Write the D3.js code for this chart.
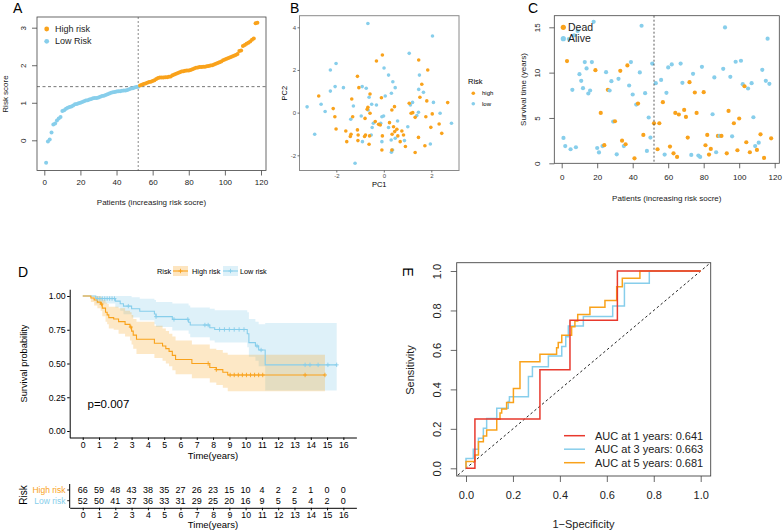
<!DOCTYPE html>
<html><head><meta charset="utf-8">
<script src="https://cdn.jsdelivr.net/npm/d3@7"></script>
<style>body{margin:0;background:#fff}svg{display:block}text{font-family:'Liberation Sans',Arial,Helvetica,sans-serif}</style>
</head><body><svg id="c" width="784" height="530"></svg>
<script>
// ---------------- DATA ----------------
const riskScore = [-0.60,-0.03,0.02,0.21,0.42,0.45,0.53,0.58,0.62,0.78,0.80,0.84,0.87,0.89,0.90,0.93,0.96,0.97,0.99,1.00,
1.02,1.04,1.06,1.07,1.09,1.10,1.12,1.13,1.13,1.14,1.16,1.18,1.19,1.21,1.23,1.25,1.27,1.28,1.29,1.30,
1.31,1.31,1.32,1.33,1.33,1.34,1.36,1.38,1.39,1.41,1.42,1.43,1.46,1.48,1.50,1.51,1.53,1.55,1.56,1.58,
1.60,1.63,1.66,1.67,1.67,1.67,1.68,1.68,1.69,1.70,1.73,1.75,1.77,1.79,1.81,1.83,1.84,1.85,1.86,1.86,
1.87,1.89,1.91,1.93,1.94,1.95,1.95,1.96,1.96,1.97,1.98,1.99,2.00,2.02,2.04,2.06,2.08,2.10,2.13,2.15,
2.17,2.19,2.21,2.23,2.25,2.27,2.30,2.38,2.39,2.51,2.54,2.57,2.60,2.63,2.68,2.71,3.12,3.13];
const nLowRisk = 52;
const riskCutoff = 1.43;
const riskGroups = ["High risk","Low Risk"];

const pcaLow = [[-0.67,4.18],[2.05,3.59],[1.07,2.78],[-2.01,2.30],[-2.25,2.0],[0.01,2.09],[0.2,1.76],[1.5,1.76],[0.38,1.45],[0.48,1.17],[-2.05,1.22],[-1.7,1.17],[-0.91,1.22],[-0.74,1.14],[-2.25,1.01],[0.32,0.91],[0.06,0.78],[-0.62,0.72],[1.67,0.95],[1.47,1.09],[2.09,0.48],[1.21,0.48],[1.12,0.36],[-0.51,0.39],[-0.31,0.36],[-2.64,0.39],[-3.23,0.27],[-2.47,0.05],[-1.28,0.31],[-0.66,0.12],[1.46,0.02],[1.39,-0.14],[2.37,-0.03],[-0.01,-0.16],[-0.08,-0.19],[-0.95,-0.16],[-1.39,-0.31],[-0.44,-0.5],[-0.13,-0.5],[0.58,-0.39],[0.2,-0.7],[-0.49,-0.7],[2.85,-0.5],[1.01,-0.66],[-2.91,-1.01],[-0.53,-1.05],[0.48,-1.2],[0.87,-1.31],[0.31,-1.28],[-0.9,-1.36],[-0.08,-1.36],[0.32,-1.86],[0.37,-1.75],[1.96,-1.47],[-1.21,-2.37]];
const pcaHigh = [[-0.06,2.70],[-0.31,2.42],[1.47,2.47],[1.85,2.0],[-1.11,1.7],[-1.05,1.17],[1.6,1.33],[-0.58,0.87],[-1.35,0.64],[-0.1,0.7],[-2.74,0.78],[1.52,0.72],[1.81,0.55],[2.69,0.47],[1.07,0.44],[-0.67,0.25],[-0.7,0.16],[-2.13,0.19],[0.45,0.28],[0.34,0.12],[-0.58,-0.03],[1.15,-0.03],[1.22,0],[2.04,-0.06],[-2.06,-0.19],[-1.31,-0.19],[-0.79,-0.27],[1.32,-0.22],[1.77,-0.19],[-0.36,-0.42],[-0.22,-0.55],[-0.15,-0.58],[0.24,-0.47],[0.41,-0.66],[0.55,-0.78],[-2.01,-0.77],[-1.6,-0.86],[-1.11,-0.81],[0.46,-0.89],[0.76,-0.86],[2.33,-0.53],[1.98,-0.69],[2.44,-0.97],[0.35,-1.01],[-1.38,-1.01],[-1.41,-1.12],[-1.08,-1.05],[-0.81,-1.12],[-0.77,-1.05],[-0.6,-1.09],[-0.06,-1.09],[0.59,-1.09],[0.83,-1.05],[1.46,-1.16],[-1.56,-1.36],[-1.09,-1.31],[-0.62,-1.48],[0.69,-1.36],[0.91,-1.59],[-0.08,-1.75],[0.34,-1.75],[1.73,-1.55],[1.32,-1.87]];

const survTime = [2.8,1.9,11.27,13.7,1.55,8.1,14.1,1.77,14.6,9.83,9.1,8.29,11.16,10.46,7.7,8.03,11.16,15.6,10.27,1.69,
1.2,5.56,1.9,2.0,10.05,8.1,8.03,9.06,4.6,4.64,0.99,9.32,10.2,2.5,1.9,2.1,10.79,8.58,11.16,7.59,
0.55,6.48,6.59,10.02,15.17,3.13,7.73,1.36,5.05,2.84,11.0,4.42,8.84,1.55,4.42,9.2,6.74,0.96,7.77,10.57,
1.84,10.9,1.1,5.56,0.7,5.38,11.0,8.88,5.89,5.12,2.84,8.95,0.92,9.87,7.81,5.56,0.85,0.7,10.64,7.85,
1.99,3.13,0.96,1.58,5.41,9.47,1.22,3.02,3.02,3.02,10.42,14.99,1.1,5.78,9.54,2.98,4.42,11.2,1.44,4.94,
11.31,8.73,8.5,2.32,8.25,1.22,8.84,5.08,1.9,1.47,2.28,3.2,10.31,0.59,9.1,13.74,8.77,2.76];
const survStatus = [0,0,1,0,0,0,0,0,0,0,0,0,0,0,0,0,0,0,1,0,
0,1,0,1,0,1,0,0,0,1,0,0,1,1,0,1,1,0,0,0,
1,0,1,0,0,1,0,0,0,0,0,1,0,1,1,0,1,0,0,0,
1,0,1,1,1,1,0,0,1,1,1,1,0,0,1,1,0,0,0,1,
1,1,1,1,0,0,0,1,0,1,0,0,1,1,0,0,1,0,1,1,
0,0,1,1,0,1,0,0,0,1,0,1,0,1,0,0,0,1];
const statusLabels = ["Dead","Alive"];

const kmHighTime  = [0,0.5,0.7,0.9,1.1,1.2,1.4,1.5,1.6,1.9,2.2,2.6,2.9,3.0,3.1,3.3,4.4,4.9,5.1,5.3,5.5,5.7,6.7,7.8,8.2,8.6,8.9,14.87];
const kmHighSurv  = [1,.985,.97,.955,.94,.91,.88,.86,.84,.83,.81,.79,.77,.74,.71,.68,.65,.63,.61,.59,.56,.53,.50,.47,.455,.435,.415,.415];
const kmHighLower = [1,.955,.93,.91,.89,.85,.81,.79,.76,.75,.72,.70,.67,.64,.61,.57,.54,.52,.50,.48,.45,.42,.39,.36,.34,.32,.295,.295];
const kmHighUpper = [1,1,1,1,.99,.97,.95,.94,.92,.92,.91,.89,.88,.86,.83,.81,.78,.76,.74,.72,.70,.67,.64,.61,.60,.58,.565,.565];
const kmHighCensor = [1.15,2.95,7.7,8.2,9.05,9.3,9.55,9.8,10.05,10.3,10.55,10.8,11.05,13.65,14.87];

const kmLowTime  = [0,0.8,2.0,2.3,2.5,3.0,3.5,4.4,4.5,5.5,6.5,6.6,7.8,8.1,10.1,10.2,10.6,10.8,11.2,15.59];
const kmLowSurv  = [1,.981,.962,.943,.925,.906,.887,.867,.847,.827,.806,.785,.765,.752,.72,.655,.63,.60,.49,.49];
const kmLowLower = [1,.945,.915,.89,.865,.84,.82,.79,.77,.745,.72,.695,.67,.655,.62,.55,.52,.48,.30,.30];
const kmLowUpper = [1,1,1,1,1,.99,.98,.97,.955,.945,.93,.915,.905,.895,.88,.83,.81,.79,.80,.80];
const kmLowCensor = [0.9,1.05,1.2,1.35,1.5,1.65,1.8,1.95,2.8,4.5,5.6,6.45,7.5,7.7,8.4,8.7,9.0,9.3,9.6,9.9,10.7,10.95,13.65,13.95,14.45,15.05,15.59];

const kmGroups = ["High risk","Low risk"];
const pValueText = "p=0.007";
const timeTicks = [0,1,2,3,4,5,6,7,8,9,10,11,12,13,14,15,16];
const atRiskHigh = [66,59,48,43,38,35,27,26,23,15,10,4,2,2,1,0,0];
const atRiskLow  = [52,50,41,37,36,33,31,29,25,20,16,9,5,5,4,2,0];

const roc1 = [[0,0],[0.038,0],[0.038,0.25],[0.315,0.25],[0.315,0.5],[0.443,0.5],[0.443,0.75],[0.645,0.75],[0.645,1],[1,1]];
const roc3 = [[0,0],[0,0.05],[0.031,0.05],[0.031,0.096],[0.053,0.096],[0.053,0.152],[0.074,0.152],[0.074,0.203],[0.088,0.203],[0.088,0.253],[0.131,0.253],[0.131,0.304],[0.18,0.304],[0.18,0.338],[0.185,0.338],[0.185,0.363],[0.266,0.363],[0.266,0.465],[0.283,0.465],[0.283,0.515],[0.351,0.515],[0.351,0.569],[0.408,0.569],[0.408,0.617],[0.425,0.617],[0.425,0.667],[0.436,0.667],[0.436,0.721],[0.5,0.721],[0.5,0.769],[0.625,0.769],[0.625,0.823],[0.675,0.823],[0.675,0.9375],[0.781,0.9375],[0.781,1],[1,1]];
const roc5 = [[0,0],[0,0.035],[0.038,0.035],[0.038,0.068],[0.053,0.068],[0.053,0.135],[0.074,0.135],[0.074,0.164],[0.088,0.164],[0.088,0.194],[0.131,0.194],[0.131,0.248],[0.145,0.248],[0.145,0.28],[0.152,0.28],[0.152,0.3],[0.173,0.3],[0.173,0.333],[0.202,0.333],[0.202,0.405],[0.23,0.405],[0.23,0.54],[0.315,0.54],[0.315,0.578],[0.386,0.578],[0.386,0.611],[0.393,0.611],[0.393,0.637],[0.408,0.637],[0.408,0.674],[0.45,0.674],[0.45,0.718],[0.464,0.718],[0.464,0.747],[0.476,0.747],[0.476,0.78],[0.528,0.78],[0.528,0.816],[0.592,0.816],[0.592,0.85],[0.642,0.85],[0.642,0.92],[0.666,0.92],[0.666,0.963],[0.741,0.963],[0.741,1],[1,1]];
const rocLabels = ["AUC at 1 years: 0.641","AUC at 3 years: 0.663","AUC at 5 years: 0.681"];

// ---------------- DRAW ----------------
const ORANGE = "#F9A21B", BLUE = "#87CEEB", RED = "#E8392D";
const FF = "'Liberation Sans', Arial, Helvetica, sans-serif";
const svg = d3.select("#c");
svg.append("rect").attr("width",784).attr("height",530).attr("fill","#fff");

function T(g, x, y, s, fs, o) {
  o = o || {};
  const t = g.append("text").attr("x", x).attr("y", y).text(s)
    .style("font-size", fs + "px").style("font-family", FF)
    .attr("fill", o.fill || "#000").attr("text-anchor", o.anchor || "start");
  if (o.dy !== undefined) t.attr("dy", o.dy);
  if (o.rot) t.attr("transform", `rotate(${o.rot},${x},${y})`);
  if (o.weight) t.style("font-weight", o.weight);
  return t;
}
function styleAxis(g, fs, col, lineCol) {
  g.select(".domain").remove();
  g.selectAll(".tick text").style("font-size", fs + "px").style("font-family", FF).attr("fill", col);
  g.selectAll(".tick line").attr("stroke", lineCol || col).attr("stroke-width", 0.8);
}
function rotY(g, off) {
  g.selectAll(".tick text").attr("transform", "rotate(-90)").attr("x", 0).attr("y", -off).attr("dy", 0).style("text-anchor", "middle");
}
const plain = d => String(d);

// ===== Panel A =====
{
  const g = svg.append("g");
  const x = d3.scaleLinear().domain([0,120]).range([44.3,261]);
  const y = d3.scaleLinear().domain([0,3]).range([140.3,27.7]);
  const L=37,R=266,Tp=17,B=170.5;
  g.append("line").attr("x1",L).attr("x2",R).attr("y1",y(riskCutoff)).attr("y2",y(riskCutoff)).attr("stroke","#555").attr("stroke-width",0.8).attr("stroke-dasharray","3,2.5");
  g.append("line").attr("x1",x(nLowRisk)).attr("x2",x(nLowRisk)).attr("y1",Tp).attr("y2",B).attr("stroke","#888").attr("stroke-width",1).attr("stroke-dasharray","2,2");
  g.selectAll("circle.p").data(riskScore).join("circle").attr("class","p")
    .attr("cx",(d,i)=>x(i+1)).attr("cy",d=>y(d)).attr("r",2)
    .attr("fill",(d,i)=> i < nLowRisk ? BLUE : ORANGE);
  g.append("rect").attr("x",L).attr("y",Tp).attr("width",R-L).attr("height",B-Tp).attr("fill","none").attr("stroke","#444").attr("stroke-width",0.8);
  const ax = g.append("g").attr("transform",`translate(0,${B})`).call(d3.axisBottom(x).tickValues([0,20,40,60,80,100,120]).tickFormat(plain).tickSize(5).tickPadding(4));
  styleAxis(ax, 8, "#222", "#444");
  const ay = g.append("g").attr("transform",`translate(${L},0)`).call(d3.axisLeft(y).tickValues([0,1,2,3]).tickFormat(plain).tickSize(5));
  styleAxis(ay, 8, "#222", "#444"); rotY(ay, 11.5);
  T(g, 151.5, 205, "Patients (increasing risk socre)", 8, {anchor:"middle", fill:"#222"});
  T(g, 8, 94, "Risk score", 8, {anchor:"middle", rot:-90, fill:"#222"});
  [ORANGE, BLUE].forEach((c,i)=>{
    g.append("circle").attr("cx",46.7).attr("cy",29+i*12.3).attr("r",2.4).attr("fill",c);
    T(g, 55, 29+i*12.3, riskGroups[i], 9, {dy:"0.35em", fill:"#222"});
  });
  T(g, 13, 12.5, "A", 14);
}

// ===== Panel B =====
{
  const g = svg.append("g");
  const x = d3.scaleLinear().domain([-2,2]).range([336.3,431.3]);
  const y = d3.scaleLinear().domain([-2,4]).range([155.3,27.3]);
  const L=299.5,R=459,Tp=15.7,B=170.5;
  g.selectAll("circle.l").data(pcaLow).join("circle").attr("class","l")
    .attr("cx",d=>x(d[0])).attr("cy",d=>y(d[1])).attr("r",1.8).attr("fill",BLUE);
  g.selectAll("circle.h").data(pcaHigh).join("circle").attr("class","h")
    .attr("cx",d=>x(d[0])).attr("cy",d=>y(d[1])).attr("r",1.8).attr("fill",ORANGE);
  g.append("rect").attr("x",L).attr("y",Tp).attr("width",R-L).attr("height",B-Tp).attr("fill","none").attr("stroke","#8a8a8a").attr("stroke-width",1);
  const ax = g.append("g").attr("transform",`translate(0,${B})`).call(d3.axisBottom(x).tickValues([-2,0,2]).tickFormat(plain).tickSize(2).tickPadding(1.5));
  styleAxis(ax, 6, "#4d4d4d", "#4d4d4d");
  const ay = g.append("g").attr("transform",`translate(${L},0)`).call(d3.axisLeft(y).tickValues([-2,0,2,4]).tickFormat(plain).tickSize(2).tickPadding(1.5));
  styleAxis(ay, 6, "#4d4d4d", "#4d4d4d");
  T(g, (L+R)/2, 186.5, "PC1", 7.5, {anchor:"middle"});
  T(g, 287.5, (Tp+B)/2, "PC2", 7.5, {anchor:"middle", rot:-90});
  T(g, 468, 81, "Risk", 7.5, {dy:"0.35em"});
  [["high",ORANGE],["low",BLUE]].forEach((d,i)=>{
    g.append("circle").attr("cx",473.3).attr("cy",93.3+i*10.4).attr("r",1.8).attr("fill",d[1]);
    T(g, 482, 93.3+i*10.4, d[0], 6, {dy:"0.35em"});
  });
  T(g, 290, 13.3, "B", 14);
}

// ===== Panel C =====
{
  const g = svg.append("g");
  const x = d3.scaleLinear().domain([0,120]).range([561.7,774.7]);
  const y = d3.scaleLinear().domain([0,15]).range([163.3,27.3]);
  const L=554.3,R=779.3,Tp=15.7,B=163.3;
  g.selectAll("circle.p").data(survTime).join("circle").attr("class","p")
    .attr("cx",(d,i)=>x(i+1)).attr("cy",d=>y(d)).attr("r",2.1)
    .attr("fill",(d,i)=> survStatus[i] === 1 ? ORANGE : BLUE);
  g.append("line").attr("x1",x(nLowRisk)).attr("x2",x(nLowRisk)).attr("y1",Tp).attr("y2",B).attr("stroke","#333").attr("stroke-width",0.8).attr("stroke-dasharray","2,2");
  g.append("rect").attr("x",L).attr("y",Tp).attr("width",R-L).attr("height",B-Tp).attr("fill","none").attr("stroke","#444").attr("stroke-width",0.8);
  const ax = g.append("g").attr("transform",`translate(0,${B})`).call(d3.axisBottom(x).tickValues([0,20,40,60,80,100,120]).tickFormat(plain).tickSize(5).tickPadding(6));
  styleAxis(ax, 8, "#222", "#444");
  const ay = g.append("g").attr("transform",`translate(${L},0)`).call(d3.axisLeft(y).tickValues([0,5,10,15]).tickFormat(plain).tickSize(5));
  styleAxis(ay, 8, "#222", "#444"); rotY(ay, 14);
  T(g, (L+R)/2, 200.5, "Patients (increasing risk socre)", 8, {anchor:"middle", fill:"#222"});
  T(g, 526, 89.5, "Survival time (years)", 8, {anchor:"middle", rot:-90, fill:"#222"});
  [ORANGE, BLUE].forEach((c,i)=>{
    g.append("circle").attr("cx",563.3).attr("cy",27.3+i*11.4).attr("r",2.6).attr("fill",c);
    T(g, 568, 27.3+i*11.4, statusLabels[i], 10.5, {dy:"0.35em", fill:"#222"});
  });
  T(g, 528, 13.3, "C", 14);
}

// ===== Panel D (KM) =====
{
  const g = svg.append("g");
  const x = d3.scaleLinear().domain([-0.8,16.8]).range([69.7,356.4]);
  const y = d3.scaleLinear().domain([-0.05,1.05]).range([437.75,289.25]);
  const mk = (t,s,lo,hi)=> t.map((v,i)=>({t:v,s:s[i],lo:lo[i],hi:hi[i]}));
  const hi = mk(kmHighTime,kmHighSurv,kmHighLower,kmHighUpper);
  const lo = mk(kmLowTime,kmLowSurv,kmLowLower,kmLowUpper);
  const area = d3.area().curve(d3.curveStepAfter).x(d=>x(d.t)).y0(d=>y(d.lo)).y1(d=>y(d.hi));
  const line = d3.line().curve(d3.curveStepAfter).x(d=>x(d.t)).y(d=>y(d.s));
  g.append("path").attr("d",area(lo)).attr("fill",BLUE).attr("fill-opacity",0.28);
  g.append("path").attr("d",area(hi)).attr("fill",ORANGE).attr("fill-opacity",0.25);
  g.append("path").attr("d",line(lo)).attr("fill","none").attr("stroke",BLUE).attr("stroke-width",1.1);
  g.append("path").attr("d",line(hi)).attr("fill","none").attr("stroke",ORANGE).attr("stroke-width",1.1);
  const stepAt = (times, surv, t)=> surv[Math.max(0, d3.bisectRight(times, t) - 1)];
  function cens(ts, times, surv, col){
    ts.forEach(t=>{
      const cx = x(t), cy = y(stepAt(times, surv, t));
      g.append("path").attr("d",`M${cx-2},${cy}H${cx+2}M${cx},${cy-2.2}V${cy+2.2}`).attr("stroke",col).attr("stroke-width",0.9);
    });
  }
  cens(kmLowCensor, kmLowTime, kmLowSurv, BLUE);
  cens(kmHighCensor, kmHighTime, kmHighSurv, ORANGE);
  const ax = g.append("g").attr("transform",`translate(0,437.5)`).call(d3.axisBottom(x).tickValues(timeTicks).tickFormat(plain).tickSize(2.5).tickSizeOuter(0).tickPadding(1.5));
  ax.select(".domain").attr("stroke","#000").attr("stroke-width",1);
  ax.selectAll(".tick text").style("font-size","8.7px").style("font-family",FF).attr("fill","#000");
  const ay = g.append("g").attr("transform",`translate(69.7,0)`).call(d3.axisLeft(y).tickValues([0,0.25,0.5,0.75,1]).tickFormat(d3.format(".2f")).tickSize(2.5).tickSizeOuter(0).tickPadding(1.5));
  ay.select(".domain").attr("stroke","#000").attr("stroke-width",1);
  ay.selectAll(".tick text").style("font-size","8.7px").style("font-family",FF).attr("fill","#000");
  T(g, 213, 458.5, "Time(years)", 9.5, {anchor:"middle"});
  T(g, 27, 363.5, "Survival probability", 9.3, {anchor:"middle", rot:-90});
  T(g, 87.5, 408, pValueText, 11.5);
  // legend
  T(g, 157, 271, "Risk", 7.3, {dy:"0.35em"});
  [[173,ORANGE,192],[223,BLUE,240]].forEach((d,i)=>{
    g.append("rect").attr("x",d[0]).attr("y",266).attr("width",15).attr("height",10).attr("fill",d[1]).attr("fill-opacity",0.28);
    g.append("line").attr("x1",d[0]).attr("x2",d[0]+15).attr("y1",271).attr("y2",271).attr("stroke",d[1]).attr("stroke-width",1.1);
    g.append("path").attr("d",`M${d[0]+5.5},271H${d[0]+9.5}M${d[0]+7.5},268.8V273.2`).attr("stroke",d[1]).attr("stroke-width",0.9);
    T(g, d[2], 271, kmGroups[i], 7.3, {dy:"0.35em"});
  });
  T(g, 18, 277, "D", 14);

  // risk table
  const tg = svg.append("g");
  const rowY = [490, 500.7];
  [atRiskHigh, atRiskLow].forEach((arr,r)=>{
    arr.forEach((v,i)=> T(tg, x(timeTicks[i]), rowY[r], String(v), 9, {anchor:"middle", dy:"0.36em"}));
  });
  const ty = tg.append("g").attr("transform","translate(69.7,0)");
  ty.append("line").attr("x1",0).attr("x2",0).attr("y1",484).attr("y2",508).attr("stroke","#000").attr("stroke-width",1);
  rowY.forEach((yy,r)=>{
    ty.append("line").attr("x1",-2.5).attr("x2",0).attr("y1",yy).attr("y2",yy).attr("stroke","#000").attr("stroke-width",0.8);
    T(tg, 65.5, yy, kmGroups[r], 8.5, {anchor:"end", dy:"0.36em", fill: r===0?ORANGE:BLUE});
  });
  const tx = tg.append("g").attr("transform","translate(0,507.8)").call(d3.axisBottom(x).tickValues(timeTicks).tickFormat(plain).tickSize(2.5).tickSizeOuter(0).tickPadding(1.5));
  tx.select(".domain").attr("stroke","#000").attr("stroke-width",1);
  tx.selectAll(".tick text").style("font-size","8.7px").style("font-family",FF).attr("fill","#000");
  T(tg, 213, 527.5, "Time(years)", 9.5, {anchor:"middle"});
  T(tg, 26.5, 495, "Risk", 10, {anchor:"middle", rot:-90});
}

// ===== Panel E (ROC) =====
{
  const g = svg.append("g");
  const x = d3.scaleLinear().domain([0,1]).range([466,700.7]);
  const y = d3.scaleLinear().domain([0,1]).range([468.3,271]);
  const L=456.7,R=710.7,Tp=262.7,B=476;
  svg.append("clipPath").attr("id","clipE").append("rect").attr("x",L).attr("y",Tp).attr("width",R-L).attr("height",B-Tp);
  const inner = g.append("g").attr("clip-path","url(#clipE)");
  inner.append("line").attr("x1",x(-0.1)).attr("y1",y(-0.1)).attr("x2",x(1.1)).attr("y2",y(1.1)).attr("stroke","#222").attr("stroke-width",1).attr("stroke-dasharray","2.5,2.5");
  const line = d3.line().x(d=>x(d[0])).y(d=>y(d[1]));
  const rocs = [roc1, roc3, roc5], cols = [RED, BLUE, ORANGE];
  [1,2,0].forEach(i=>{
    inner.append("path").attr("d",line(rocs[i])).attr("fill","none").attr("stroke",cols[i]).attr("stroke-width",1.5);
  });
  g.append("rect").attr("x",L).attr("y",Tp).attr("width",R-L).attr("height",B-Tp).attr("fill","none").attr("stroke","#444").attr("stroke-width",0.9);
  const ax = g.append("g").attr("transform",`translate(0,${B})`).call(d3.axisBottom(x).tickValues([0,0.2,0.4,0.6,0.8,1]).tickFormat(d3.format(".1f")).tickSize(6).tickPadding(9.5));
  styleAxis(ax, 11, "#222", "#444");
  const ay = g.append("g").attr("transform",`translate(${L},0)`).call(d3.axisLeft(y).tickValues([0,0.2,0.4,0.6,0.8,1]).tickFormat(d3.format(".1f")).tickSize(6));
  styleAxis(ay, 11, "#222", "#444"); rotY(ay, 16);
  T(g, 583.5, 528, "1\u2212Specificity", 11, {anchor:"middle", fill:"#222"});
  T(g, 414, 370, "Sensitivity", 11, {anchor:"middle", rot:-90, fill:"#222"});
  rocLabels.forEach((s,i)=>{
    const yy = 435.7 + i*13.5;
    g.append("line").attr("x1",564).attr("x2",585).attr("y1",yy).attr("y2",yy).attr("stroke",cols[i]).attr("stroke-width",1.5);
    T(g, 595, yy, s, 11, {dy:"0.35em", fill:"#222"});
  });
  T(g, 403, 272, "E", 14, {anchor:"middle", rot:90});
}
</script></body></html>
